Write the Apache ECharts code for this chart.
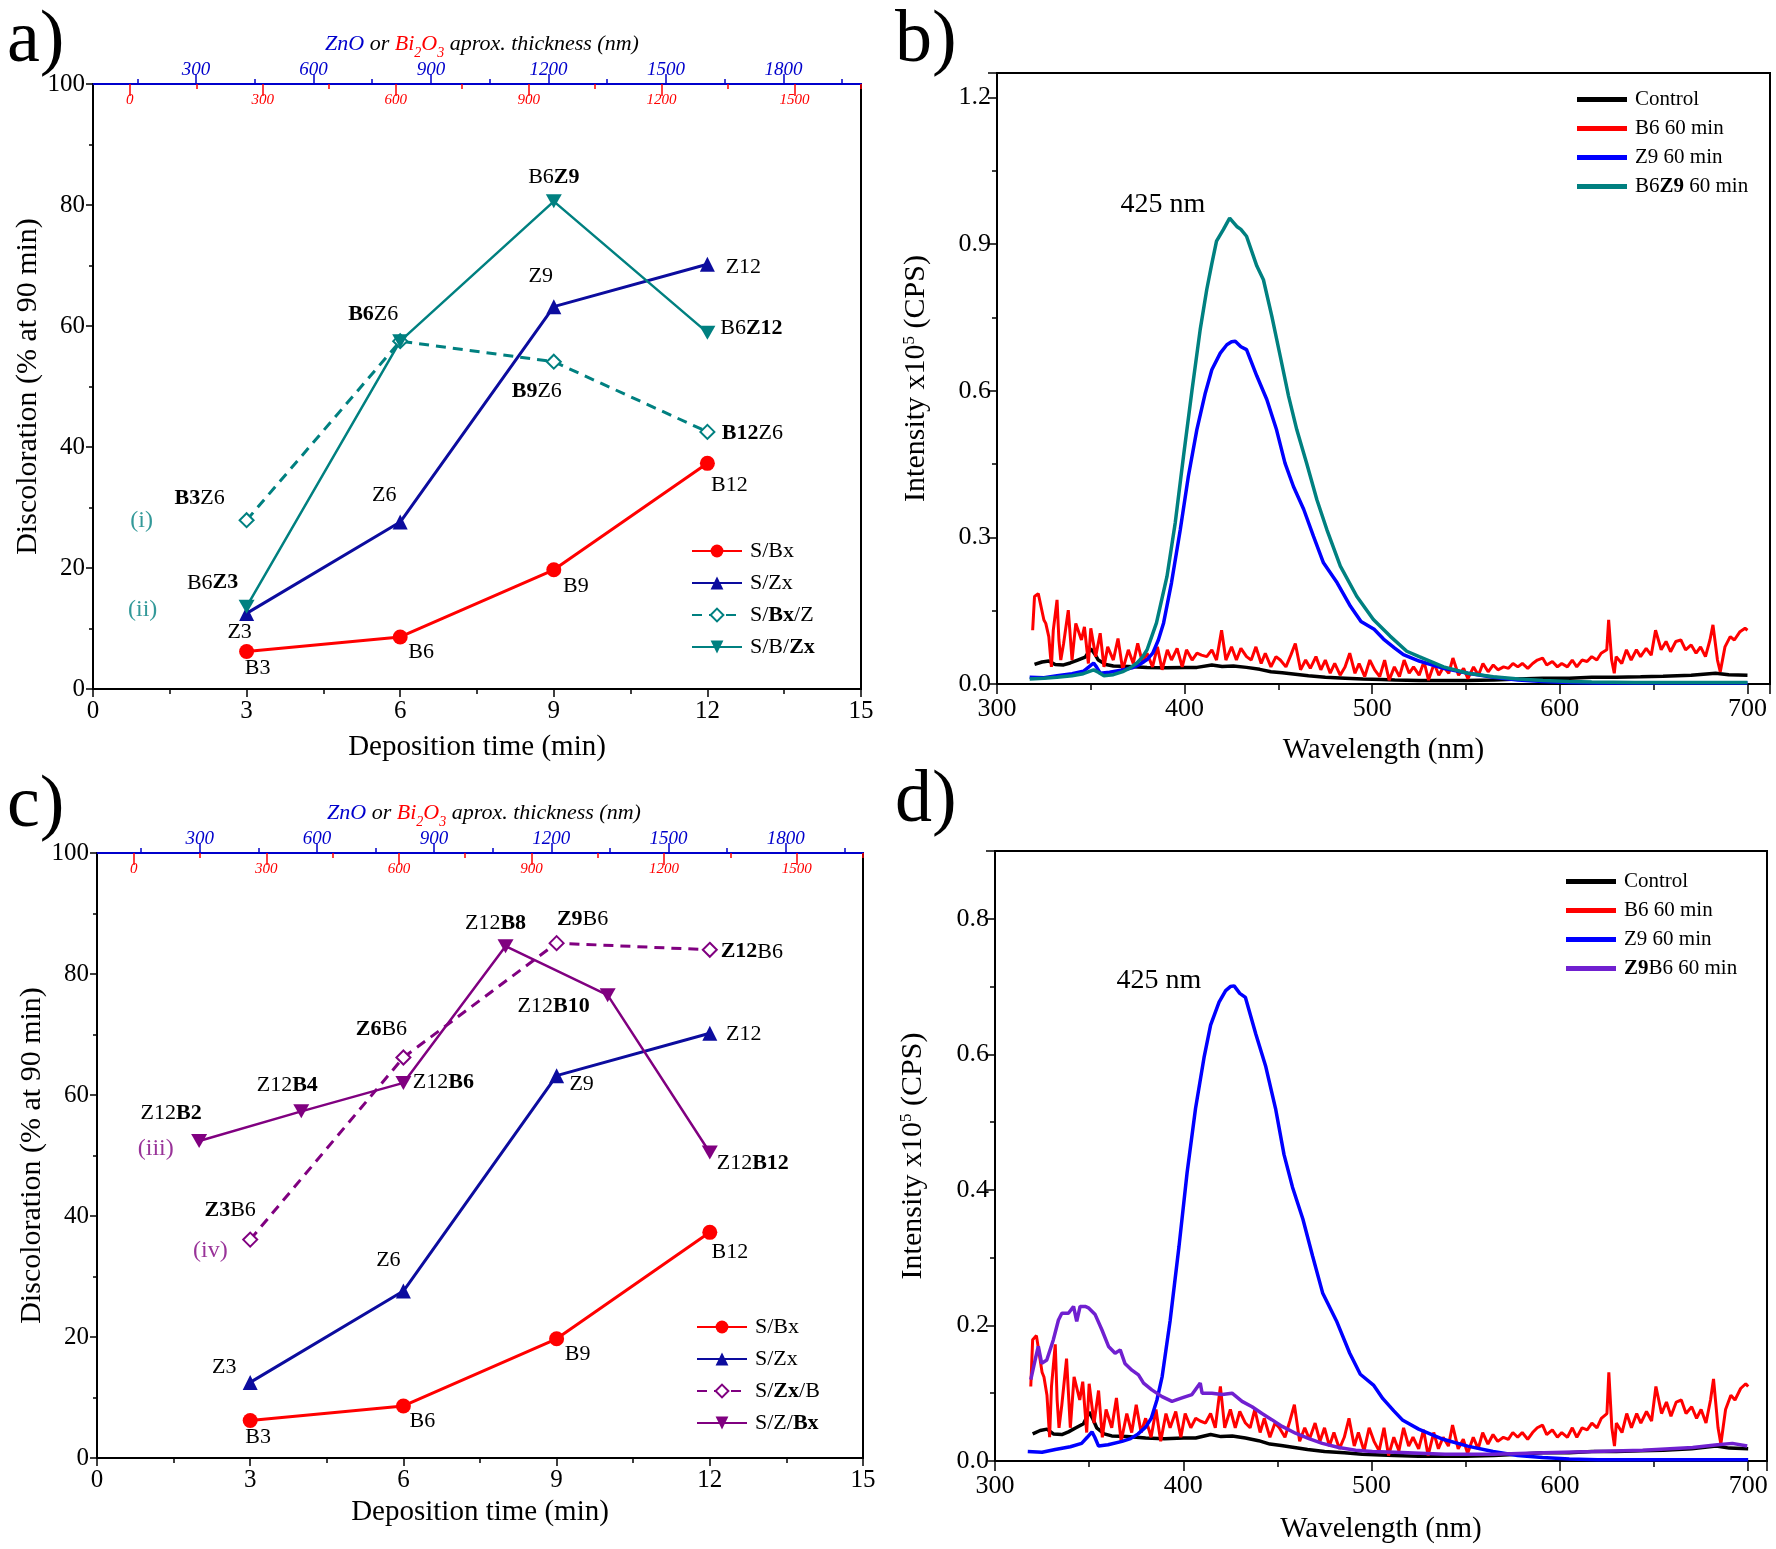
<!DOCTYPE html>
<html>
<head>
<meta charset="utf-8">
<script src="https://cdn.jsdelivr.net/npm/echarts@6/dist/echarts.min.js"></script>
<style>
  html, body { margin: 0; padding: 0; background: #fff; }
  #chart { width: 1776px; height: 1549px; }
</style>
</head>
<body>
<div id="chart"></div>
<script>
// ---- discoloration data (panels a, c) ----
const depTimes = [3, 6, 9, 12];
const sBx = [6.2, 8.6, 19.7, 37.3];
const sZx = [12.5, 27.6, 63.2, 70.2];
const sBxZ = [27.9, 57.5, 54.1, 42.5];
const sBZx = [13.6, 57.5, 80.6, 58.9];
const sZxB = [36.1, 66.2, 85.1, 84.0];
const zbTimes = [2, 4, 6, 8, 10, 12];
const sZBx = [52.4, 57.3, 62.0, 84.6, 76.5, 50.5];

const sBxLbl = ['B3', 'B6', 'B9', 'B12'];
const sZxLbl = ['Z3', 'Z6', 'Z9', 'Z12'];
const sBxZLbl = ['{b|B3}Z6', '{b|B6}Z6', '{b|B9}Z6', '{b|B12}Z6'];
const sBZxLbl = ['B6{b|Z3}', '', 'B6{b|Z9}', 'B6{b|Z12}'];
const sZxBLbl = ['{b|Z3}B6', '{b|Z6}B6', '{b|Z9}B6', '{b|Z12}B6'];
const sZBxLbl = ['Z12{b|B2}', 'Z12{b|B4}', 'Z12{b|B6}', 'Z12{b|B8}', 'Z12{b|B10}', 'Z12{b|B12}'];

const annA = [[0.95, 27.9, '(i)'], [0.97, 13.1, '(ii)']];
const annC = [[1.15, 51.1, '(iii)'], [2.22, 34.3, '(iv)']];

// top thickness axes
const znoTicks = [300, 600, 900, 1200, 1500, 1800];
const znoMinor = [150, 450, 750, 1050, 1350, 1650, 1950];
const biTicks = [0, 300, 600, 900, 1200, 1500];
const biMinor = [150, 450, 750, 1050, 1350, 1650];

// ---- PL spectra (panels b, d): [wavelength nm, intensity x1e5] ----
const control = [[320,0.040],[324,0.045],[327.6,0.047],[331,0.040],[335.5,0.039],[339,0.043],[343,0.049],[347,0.055],[350,0.072],[352,0.062],[354,0.049],[358,0.040],[362,0.037],[370,0.036],[380,0.034],[390,0.033],[400,0.034],[406.6,0.034],[414.5,0.039],[420,0.036],[426,0.037],[433,0.034],[440,0.030],[446,0.025],[452,0.023],[459,0.020],[466,0.017],[475,0.014],[485.5,0.012],[495,0.010],[505,0.009],[512,0.008],[525,0.007],[538,0.007],[550,0.007],[565,0.008],[577.6,0.010],[590.8,0.012],[605,0.012],[617,0.014],[630,0.014],[643,0.015],[655,0.016],[670,0.018],[683,0.022],[690,0.019],[700,0.018]];

const b6 = [[319,0.110],[320,0.179],[322,0.185],[325,0.131],[326,0.124],[327.6,0.097],[329,0.035],[330,0.110],[332,0.172],[333,0.090],[334,0.049],[335.5,0.083],[338,0.151],[340,0.049],[342,0.124],[345,0.090],[346.6,0.117],[348.7,0.042],[350,0.114],[352.6,0.056],[355,0.104],[357,0.035],[359,0.076],[362,0.049],[364.5,0.093],[367,0.029],[370,0.070],[372.6,0.042],[375,0.083],[377.6,0.042],[380,0.063],[382.9,0.035],[385.5,0.076],[388,0.029],[390.8,0.070],[393,0.049],[396,0.073],[398.7,0.035],[401,0.070],[404,0.049],[406.6,0.063],[409,0.059],[411.8,0.056],[414.5,0.070],[417,0.049],[419.7,0.110],[422,0.049],[425,0.076],[427.6,0.049],[430,0.073],[433,0.056],[435.5,0.049],[438,0.076],[440.8,0.042],[443,0.063],[446,0.035],[448.7,0.056],[451,0.049],[454,0.035],[456.6,0.059],[459,0.083],[461.8,0.029],[464.5,0.049],[467,0.032],[470,0.056],[472.6,0.029],[475,0.049],[477.6,0.022],[480,0.042],[482.9,0.018],[485.5,0.035],[488,0.063],[490.8,0.022],[493,0.042],[496,0.015],[498.7,0.049],[501.3,0.029],[504,0.015],[506.6,0.049],[509,0.008],[511.8,0.035],[514.5,0.015],[517,0.049],[519.7,0.022],[522,0.035],[525,0.018],[527.6,0.046],[530,0.008],[533,0.042],[535.5,0.018],[538,0.035],[540.8,0.022],[543,0.053],[546,0.018],[548.7,0.032],[551,0.011],[554,0.035],[556.6,0.018],[559,0.042],[561.8,0.025],[564.5,0.039],[567,0.029],[570,0.035],[572.6,0.032],[575,0.042],[577.6,0.035],[580,0.042],[582.9,0.032],[585.5,0.042],[588,0.049],[590.8,0.053],[593,0.039],[596,0.046],[598.7,0.035],[601,0.042],[604,0.035],[606.6,0.049],[609,0.035],[611.8,0.049],[614.5,0.046],[617,0.056],[619.7,0.049],[622,0.063],[625,0.070],[626,0.131],[627.6,0.049],[629,0.022],[630,0.056],[633,0.042],[635.5,0.070],[638,0.049],[640.8,0.070],[643,0.056],[646,0.073],[648.7,0.059],[651,0.110],[654,0.070],[656.6,0.087],[659,0.066],[661.8,0.087],[664.5,0.090],[667,0.070],[670,0.080],[672.6,0.063],[675,0.076],[677.6,0.056],[680,0.090],[681.6,0.121],[684,0.049],[685.5,0.025],[688,0.076],[690.8,0.097],[693,0.090],[696,0.107],[698.7,0.114],[700,0.110]];

const z9 = [[317.4,0.014],[325,0.013],[332,0.017],[340,0.021],[346,0.026],[349,0.035],[351.5,0.043],[353,0.035],[355,0.022],[360,0.024],[367.5,0.029],[372,0.033],[376,0.040],[380,0.050],[383,0.063],[386,0.090],[388.8,0.125],[393,0.207],[397.7,0.316],[402,0.425],[406.5,0.520],[411,0.595],[414.5,0.643],[419,0.677],[422.5,0.694],[425,0.700],[427,0.701],[430,0.690],[433,0.684],[438.5,0.630],[443.8,0.582],[449,0.520],[453.5,0.452],[458,0.404],[463.5,0.357],[468.7,0.302],[474,0.248],[481.3,0.207],[488.4,0.159],[494,0.128],[501,0.112],[506,0.092],[511.8,0.074],[516.6,0.060],[525,0.047],[538,0.032],[551,0.022],[564.5,0.014],[577.6,0.008],[590.8,0.005],[605,0.003],[620,0.002],[650,0.002],[700,0.002]];

const b6z9 = [[317.4,0.010],[325,0.012],[332,0.014],[340,0.017],[346,0.021],[351.5,0.029],[354,0.024],[357,0.017],[362,0.019],[367.5,0.026],[371,0.033],[374.6,0.043],[377.5,0.055],[380,0.070],[385,0.125],[390.6,0.220],[395,0.330],[399.4,0.466],[403.9,0.600],[408.3,0.725],[411.8,0.807],[414.5,0.860],[417,0.906],[420.7,0.930],[424,0.953],[427.8,0.936],[430,0.930],[433,0.916],[438.5,0.855],[442,0.827],[446.5,0.752],[451,0.670],[455.4,0.589],[459.8,0.520],[465,0.452],[470.5,0.377],[475.8,0.316],[483,0.241],[491.8,0.179],[500.6,0.132],[509.5,0.098],[518.4,0.067],[525,0.056],[538,0.035],[551,0.022],[564.5,0.015],[578,0.010],[591,0.007],[605,0.005],[617,0.004],[640,0.003],[670,0.003],[700,0.003]];

const z9b6 = [[319,0.120],[321.3,0.149],[323,0.169],[324.8,0.144],[327.5,0.149],[331,0.179],[333.7,0.208],[335.5,0.218],[339,0.218],[341.7,0.228],[343.4,0.206],[345.2,0.228],[347.9,0.228],[349.6,0.226],[353.2,0.216],[356.7,0.194],[360.3,0.169],[363.8,0.159],[366.5,0.164],[369,0.144],[372.7,0.134],[376.2,0.127],[378.9,0.115],[383.3,0.105],[388.7,0.095],[394,0.088],[399.3,0.093],[404.6,0.098],[409,0.115],[410,0.100],[415.2,0.100],[420.6,0.098],[425.9,0.100],[431.2,0.088],[436.5,0.080],[441.8,0.070],[447,0.061],[452.5,0.051],[459.6,0.041],[466.7,0.033],[473.8,0.026],[482.6,0.020],[491.5,0.016],[500.4,0.014],[512.6,0.013],[539,0.010],[565,0.010],[591.6,0.012],[618,0.014],[644,0.016],[670.5,0.020],[683.7,0.024],[691.6,0.026],[699.5,0.022]];

const SERIF = '"Liberation Serif", "DejaVu Serif", serif';
const RED = '#ff0000', NAVY = '#0c0c9e', TEAL = '#008080', PURPLE = '#800080';
const BLUE = '#0000ff', VIOLET = '#7020d0', ZNO = '#0000cc';
const DOWN_TRI = 'path://M0,0L2,0L1,1.7Z';

const chart = echarts.init(document.getElementById('chart'));

const legendTxt = {
  'S/Bx/Z': 'S/{b|Bx}/Z', 'S/B/Zx': 'S/B/{b|Zx}',
  'S/Zx/B': 'S/{b|Zx}/B', 'S/Z/Bx': 'S/Z/{b|Bx}',
  'B6Z9 60 min': 'B6{b|Z9} 60 min', 'Z9B6 60 min': '{b|Z9}B6 60 min'
};

// panel rectangles: a, b, c, d
const rects = [
  { left: 93, top: 84, width: 768, height: 605 },
  { left: 997, top: 73, width: 773, height: 611 },
  { left: 97, top: 853, width: 766, height: 605 },
  { left: 995, top: 851, width: 772, height: 610 }
];

function timeAxis(gi, gap) {
  return {
    type: 'value', gridIndex: gi, position: 'bottom', min: 0, max: 15, interval: 3,
    name: 'Deposition time (min)', nameLocation: 'middle', nameGap: gap,
    nameTextStyle: { fontFamily: SERIF, fontSize: 29, color: '#000' },
    axisLine: { show: true, onZero: false, lineStyle: { color: '#000', width: 2 } },
    axisTick: { show: true, length: 8, lineStyle: { color: '#000', width: 1.5 } },
    minorTick: { show: true, splitNumber: 2, length: 5, lineStyle: { color: '#000', width: 1.5 } },
    axisLabel: { fontFamily: SERIF, fontSize: 25, color: '#000', margin: 10 },
    splitLine: { show: false }
  };
}

// each top thickness axis lives in its own invisible grid over the panel
function topAxisDefs() {
  return [
    { min: 37, max: 1998, line: true, color: ZNO, inside: false, len: 10, ticks: znoTicks, labels: true, fs: 19, margin: 5 },
    { min: 37, max: 1998, line: false, color: ZNO, inside: false, len: 5, ticks: znoMinor, labels: false },
    { min: -83, max: 1650, line: false, color: RED, inside: true, len: 12, ticks: biTicks, labels: true, fs: 15, margin: 9 },
    { min: -83, max: 1650, line: false, color: RED, inside: true, len: 5, ticks: biMinor, labels: false }
  ];
}

function topAxis(gi, d) {
  return {
    type: 'value', gridIndex: gi, position: 'top', min: d.min, max: d.max,
    splitLine: { show: false },
    axisLine: { show: d.line, onZero: false, lineStyle: { color: d.color, width: 2 } },
    axisTick: { show: true, inside: d.inside, length: d.len, customValues: d.ticks, lineStyle: { color: d.color, width: 1.5 } },
    axisLabel: d.labels ? {
      show: true, inside: d.inside, customValues: d.ticks, formatter: v => String(v),
      fontFamily: SERIF, fontStyle: 'italic', fontSize: d.fs, color: d.color, margin: d.margin
    } : { show: false }
  };
}

function discAxis(gi) {
  return {
    type: 'value', gridIndex: gi, min: 0, max: 100, interval: 20,
    name: 'Discoloration (% at 90 min)', nameLocation: 'middle', nameRotate: 90, nameGap: 38,
    nameTextStyle: { fontFamily: SERIF, fontSize: 30, color: '#000' },
    axisLine: { show: true, lineStyle: { color: '#000', width: 2 } },
    axisTick: { show: true, length: 7, lineStyle: { color: '#000', width: 1.5 } },
    minorTick: { show: true, splitNumber: 2, length: 4, lineStyle: { color: '#000', width: 1.5 } },
    axisLabel: { fontFamily: SERIF, fontSize: 25, color: '#000', margin: 8 },
    splitLine: { show: false }
  };
}

function wlAxis(gi, max, gap) {
  return {
    type: 'value', gridIndex: gi, min: 300, max: max, interval: 100,
    name: 'Wavelength (nm)', nameLocation: 'middle', nameGap: gap,
    nameTextStyle: { fontFamily: SERIF, fontSize: 29, color: '#000' },
    axisLine: { show: true, onZero: false, lineStyle: { color: '#000', width: 2 } },
    axisTick: { show: true, length: 10, lineStyle: { color: '#000', width: 1.5 } },
    minorTick: { show: true, splitNumber: 2, length: 6, lineStyle: { color: '#000', width: 1.5 } },
    axisLabel: { fontFamily: SERIF, fontSize: 26, color: '#000', margin: 12, showMaxLabel: false },
    splitLine: { show: false }
  };
}

function intAxis(gi, max, interval, gap) {
  return {
    type: 'value', gridIndex: gi, min: 0, max: max, interval: interval,
    name: 'Intensity x10{sup|5} (CPS)', nameLocation: 'middle', nameRotate: 90, nameGap: gap,
    nameTextStyle: {
      fontFamily: SERIF, fontSize: 30, color: '#000',
      rich: { sup: { fontFamily: SERIF, fontSize: 17, color: '#000', verticalAlign: 'top', lineHeight: 30 } }
    },
    axisLine: { show: true, lineStyle: { color: '#000', width: 2 } },
    axisTick: { show: true, length: 9, lineStyle: { color: '#000', width: 1.5 } },
    minorTick: { show: true, splitNumber: 2, length: 5, lineStyle: { color: '#000', width: 1.5 } },
    axisLabel: { fontFamily: SERIF, fontSize: 26, color: '#000', margin: 6, showMaxLabel: false, formatter: v => v.toFixed(1) },
    splitLine: { show: false }
  };
}

function ptSeries(name, gi, xs, ys, lbls, offs, st) {
  return {
    type: 'line', name: name, xAxisIndex: gi, yAxisIndex: gi,
    data: ys.map((v, i) => ({ value: [xs[i], v], label: { offset: offs[i] } })),
    symbol: st.symbol, symbolSize: st.size, showSymbol: true,
    lineStyle: { color: st.color, width: st.width, type: st.dash || 'solid' },
    itemStyle: { color: st.color, borderColor: st.color, borderWidth: st.border || 0 },
    label: {
      show: true, position: 'inside', formatter: p => lbls[p.dataIndex],
      fontFamily: SERIF, fontSize: 22, color: '#000', textBorderWidth: 0,
      rich: { b: { fontFamily: SERIF, fontSize: 22, fontWeight: 'bold', color: '#000' } }
    },
    z: st.z || 3
  };
}

function annSeries(gi, ann, color) {
  return {
    type: 'scatter', xAxisIndex: gi, yAxisIndex: gi, silent: true,
    data: ann.map(a => ({ value: [a[0], a[1]], name: a[2] })),
    symbolSize: 1, itemStyle: { color: 'rgba(0,0,0,0)' },
    label: { show: true, position: 'inside', formatter: p => p.name, color: color, textBorderWidth: 0, fontFamily: SERIF, fontSize: 24 },
    z: 6
  };
}

function specSeries(name, gi, data, color, width, z) {
  return {
    type: 'line', name: name, xAxisIndex: gi, yAxisIndex: gi, data: data,
    symbol: 'none', showSymbol: false,
    lineStyle: { color: color, width: width }, itemStyle: { color: color }, z: z
  };
}

function legendAt(left, top, names, fs, gap, spectra) {
  const lg = {
    orient: 'vertical', left: left, top: top, data: names, selectedMode: false,
    itemWidth: 50, itemHeight: 16, itemGap: gap,
    formatter: n => legendTxt[n] || n,
    textStyle: {
      fontFamily: SERIF, fontSize: fs, color: '#000', lineHeight: fs, padding: [0, 0, 0, 3],
      rich: { b: { fontFamily: SERIF, fontSize: fs, fontWeight: 'bold', color: '#000' } }
    }
  };
  if (spectra) {
    lg.icon = 'rect';
    lg.itemHeight = 5;
  }
  return lg;
}

const redSt = { symbol: 'circle', size: 15, color: RED, width: 3 };
const navySt = { symbol: 'triangle', size: 15, color: NAVY, width: 3 };

// grids 0-3 are the visible panels, then 4 overlay grids for a, 4 for c
const grids = rects.map(r => Object.assign({}, r, { show: true, borderColor: '#000', borderWidth: 2 }));
const xAxes = [timeAxis(0, 44), wlAxis(1, 712, 52), timeAxis(2, 40), wlAxis(3, 710, 54)];
const yAxes = [discAxis(0), intAxis(1, 1.25, 0.3, 66), discAxis(2), intAxis(3, 0.9, 0.2, 67)];
[0, 2].forEach(p => {
  topAxisDefs().forEach(d => {
    const gi = grids.length;
    grids.push(Object.assign({}, rects[p], { show: false }));
    xAxes.push(topAxis(gi, d));
    yAxes.push({ type: 'value', gridIndex: gi, show: false, min: 0, max: 1 });
  });
});

const option = {
  animation: false,
  backgroundColor: '#fff',
  grid: grids,
  xAxis: xAxes,
  yAxis: yAxes,
  legend: [
    legendAt(686, 535, ['S/Bx', 'S/Zx', 'S/Bx/Z', 'S/B/Zx'], 22, 10),
    legendAt(1572, 84, ['Control', 'B6 60 min', 'Z9 60 min', 'B6Z9 60 min'], 21, 8, true),
    legendAt(691, 1311, ['S/Bx', 'S/Zx', 'S/Zx/B', 'S/Z/Bx'], 22, 10),
    legendAt(1561, 866, ['Control', 'B6 60 min', 'Z9 60 min', 'Z9B6 60 min'], 21, 8, true)
  ],
  title: [
    { text: 'a)', left: 2, top: 0, textStyle: { fontFamily: SERIF, fontSize: 74, fontWeight: 'normal', color: '#000' } },
    { text: 'b)', left: 890, top: 0, textStyle: { fontFamily: SERIF, fontSize: 74, fontWeight: 'normal', color: '#000' } },
    { text: 'c)', left: 2, top: 765, textStyle: { fontFamily: SERIF, fontSize: 74, fontWeight: 'normal', color: '#000' } },
    { text: 'd)', left: 890, top: 760, textStyle: { fontFamily: SERIF, fontSize: 74, fontWeight: 'normal', color: '#000' } },
    { text: '425 nm', left: 1158, top: 186, textAlign: 'center', textStyle: { fontFamily: SERIF, fontSize: 28, fontWeight: 'normal', color: '#000' } },
    { text: '425 nm', left: 1154, top: 962, textAlign: 'center', textStyle: { fontFamily: SERIF, fontSize: 28, fontWeight: 'normal', color: '#000' } }
  ].concat([[477, 23], [479, 792]].map(p => ({
    text: '{zn|ZnO} or {bi|Bi}{sub|2}{bi|O}{sub|3} aprox. thickness (nm)',
    left: p[0], top: p[1], textAlign: 'center',
    textStyle: {
      fontFamily: SERIF, fontSize: 22, fontStyle: 'italic', fontWeight: 'normal', color: '#000',
      rich: {
        zn: { fontFamily: SERIF, fontSize: 22, fontStyle: 'italic', color: ZNO },
        bi: { fontFamily: SERIF, fontSize: 22, fontStyle: 'italic', color: RED },
        sub: { fontFamily: SERIF, fontSize: 14, fontStyle: 'italic', color: RED, verticalAlign: 'bottom', lineHeight: 32 }
      }
    }
  }))),
  series: [
    // panel a
    ptSeries('S/Bx', 0, depTimes, sBx, sBxLbl, [[11, 17], [21, 15], [22, 16], [22, 22]], redSt),
    ptSeries('S/Zx', 0, depTimes, sZx, sZxLbl, [[-7, 19], [-16, -27], [-13, -30], [36, 3]], navySt),
    ptSeries('S/Bx/Z', 0, depTimes, sBxZ, sBxZLbl, [[-47, -22], [-27, -27], [-17, 30], [45, 1]],
      { symbol: 'emptyDiamond', size: 14, color: TEAL, width: 3, dash: [10, 7], border: 2 }),
    ptSeries('S/B/Zx', 0, depTimes, sBZx, sBZxLbl, [[-34, -24], [0, 0], [0, -24], [44, -4]],
      { symbol: DOWN_TRI, size: [16, 14], color: TEAL, width: 2.5 }),
    annSeries(0, annA, TEAL),
    // panel b
    specSeries('Control', 1, control, '#000', 3.5, 2),
    specSeries('B6 60 min', 1, b6, RED, 3, 3),
    specSeries('Z9 60 min', 1, z9, BLUE, 3.5, 4),
    specSeries('B6Z9 60 min', 1, b6z9, TEAL, 3.5, 5),
    // panel c
    ptSeries('S/Bx', 2, depTimes, sBx, sBxLbl, [[8, 17], [19, 15], [21, 15], [20, 20]], redSt),
    ptSeries('S/Zx', 2, depTimes, sZx, sZxLbl, [[-26, -15], [-15, -31], [25, 9], [34, 1]], navySt),
    ptSeries('S/Zx/B', 2, depTimes, sZxB, sZxBLbl, [[-20, -29], [-22, -28], [26, -24], [42, 2]],
      { symbol: 'emptyDiamond', size: 14, color: PURPLE, width: 3, dash: [10, 7], border: 2 }),
    ptSeries('S/Z/Bx', 2, zbTimes, sZBx, sZBxLbl, [[-28, -28], [-14, -26], [40, -1], [-10, -23], [-54, 11], [43, 11]],
      { symbol: DOWN_TRI, size: [16, 14], color: PURPLE, width: 2.5 }),
    annSeries(2, annC, PURPLE),
    // panel d
    specSeries('Control', 3, control, '#000', 3.5, 2),
    specSeries('B6 60 min', 3, b6, RED, 3, 3),
    specSeries('Z9 60 min', 3, z9, BLUE, 3.5, 4),
    specSeries('Z9B6 60 min', 3, z9b6, VIOLET, 3.5, 5)
  ]
};

chart.setOption(option);
</script>
</body>
</html>
